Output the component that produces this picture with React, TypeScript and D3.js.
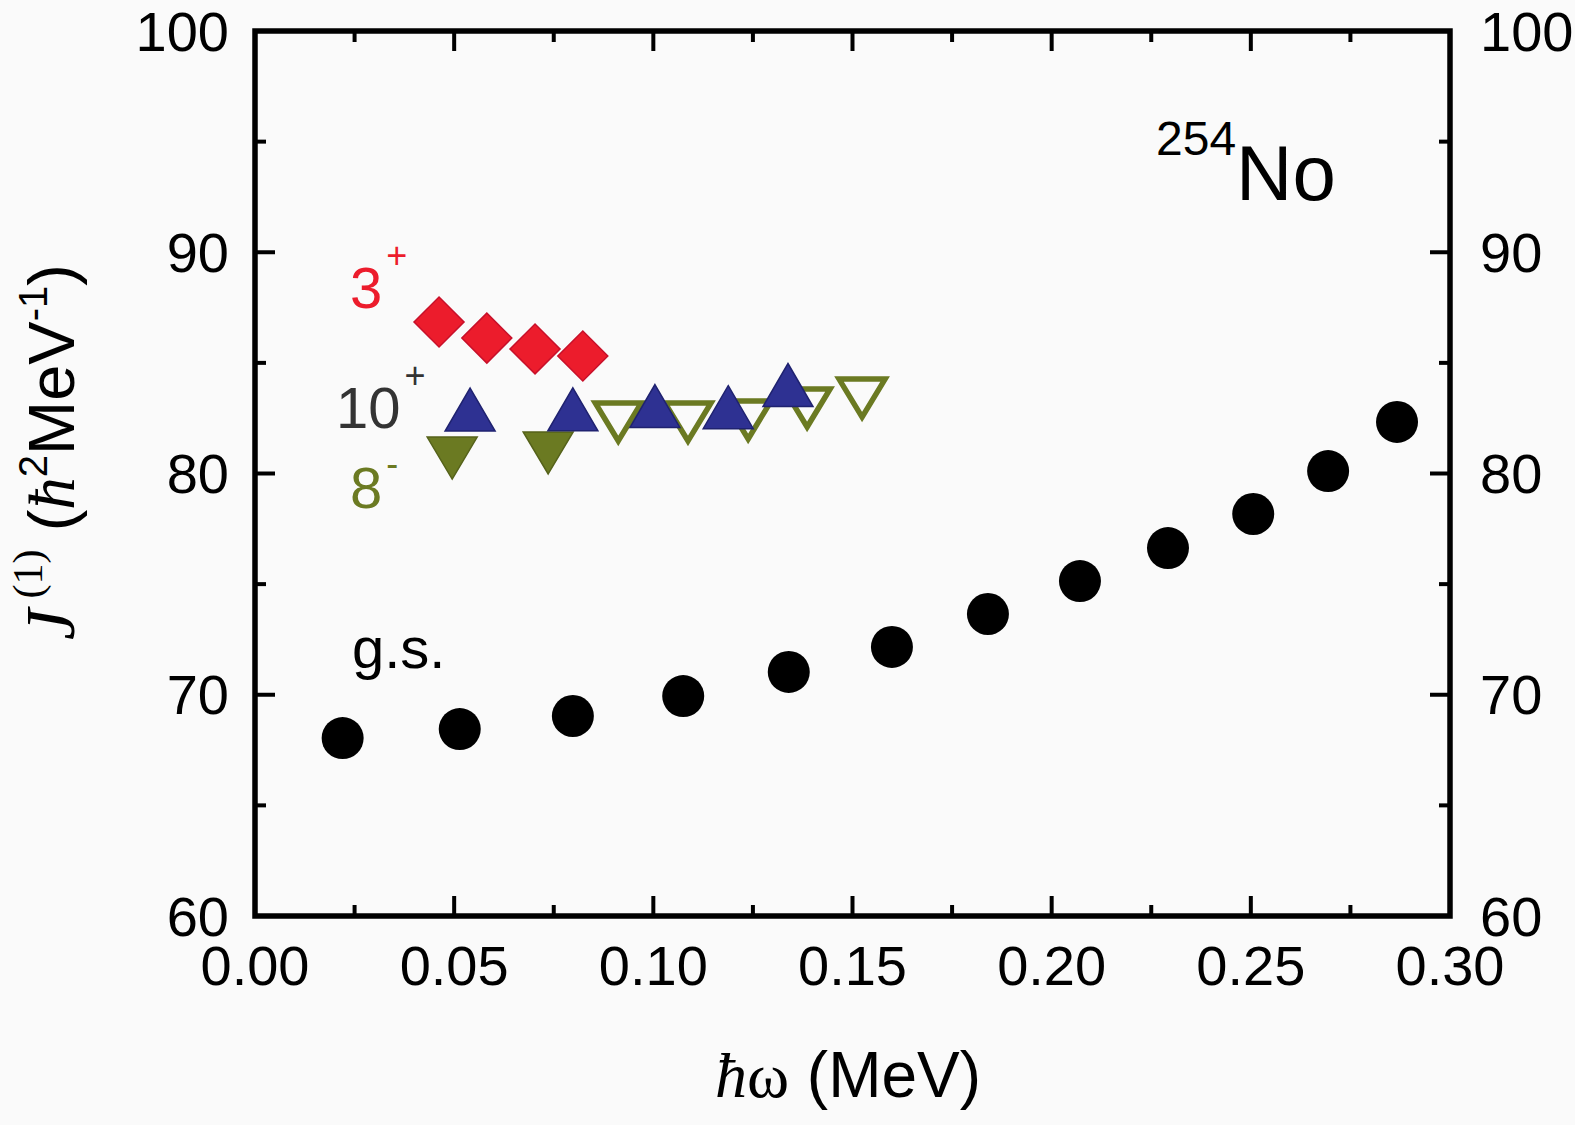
import React, { useEffect, useRef } from "react";
import * as d3 from "d3";

// hbar*omega (MeV) and J(1) (hbar^2 MeV^-1)
const gsOmega = [0.022, 0.0514, 0.0798, 0.1075, 0.134, 0.1599, 0.184, 0.2071, 0.2292, 0.2506, 0.2694, 0.2867];
const gsJ = [68.04, 68.45, 69.04, 69.94, 71.03, 72.16, 73.65, 75.14, 76.63, 78.17, 80.11, 82.33];

const band3Omega = [0.0462, 0.0582, 0.0703, 0.0823];
const band3J = [86.85, 86.12, 85.63, 85.31];

const band10Omega = [0.054, 0.0798, 0.1004, 0.1188, 0.1338];
const band10J = [82.89, 82.9, 83.05, 83.0, 84.0];

const band8Omega = [0.0495, 0.0736];
const band8J = [80.7, 80.93];

const band8OpenOmega = [0.0912, 0.1087, 0.1238, 0.1386, 0.1524];
const band8OpenJ = [82.33, 82.33, 82.42, 82.96, 83.41];

const xMajor = [0, 0.05, 0.1, 0.15, 0.2, 0.25, 0.3];
const yMajor = [60, 70, 80, 90, 100];

const W = 1575;
const H = 1125;
const FONT = "'Liberation Sans', Arial, sans-serif";
const SERIF = "'Liberation Serif', 'DejaVu Serif', serif";

const RED = "#ec1c2c";
const BLUE = "#2e3192";
const OLIVE = "#6b7a22";

const zip = (xs: number[], ys: number[]) => xs.map((x, i) => ({ x, y: ys[i] }));

const triUp = (w: number, h: number) => `M0,${-h / 2}L${w / 2},${h / 2}L${-w / 2},${h / 2}Z`;
const triDown = (w: number, h: number) => `M0,${h / 2}L${w / 2},${-h / 2}L${-w / 2},${-h / 2}Z`;

export default function App() {
  const svgRef = useRef<SVGSVGElement>(null);

  useEffect(() => {
    if (!svgRef.current) return;
    const svg = d3.select(svgRef.current);
    svg.selectAll("*").remove();

    const x = d3.scaleLinear().domain([0, 0.3]).range([255, 1450]);
    const y = d3.scaleLinear().domain([60, 100]).range([916, 31]);
    const [x0, x1] = x.range();
    const [y0, y1] = y.range();

    svg.append("rect").attr("width", W).attr("height", H).attr("fill", "#fafafa");

    // ticks (inward, all four sides)
    const ticks = svg.append("g").attr("stroke", "#000").attr("stroke-width", 4);
    const xMinor = d3.range(0, 0.3001, 0.025);
    const yMinor = d3.range(60, 100.01, 5);
    xMinor.forEach((v, i) => {
      const len = i % 2 === 0 ? 20 : 11;
      ticks.append("line").attr("x1", x(v)).attr("x2", x(v)).attr("y1", y0).attr("y2", y0 - len);
      ticks.append("line").attr("x1", x(v)).attr("x2", x(v)).attr("y1", y1).attr("y2", y1 + len);
    });
    yMinor.forEach((v, i) => {
      const len = i % 2 === 0 ? 20 : 11;
      ticks.append("line").attr("y1", y(v)).attr("y2", y(v)).attr("x1", x0).attr("x2", x0 + len);
      ticks.append("line").attr("y1", y(v)).attr("y2", y(v)).attr("x1", x1).attr("x2", x1 - len);
    });

    // frame
    svg
      .append("rect")
      .attr("x", x0)
      .attr("y", y1)
      .attr("width", x1 - x0)
      .attr("height", y0 - y1)
      .attr("fill", "none")
      .attr("stroke", "#000")
      .attr("stroke-width", 5.5);

    // tick labels
    const fmt = d3.format(".2f");
    svg
      .append("g")
      .selectAll("text")
      .data(xMajor)
      .enter()
      .append("text")
      .attr("x", (d) => x(d))
      .attr("y", 985)
      .attr("text-anchor", "middle")
      .style("font-family", FONT)
      .style("font-size", "56px")
      .text((d) => fmt(d));

    svg
      .append("g")
      .selectAll("text")
      .data(yMajor)
      .enter()
      .append("text")
      .attr("x", 229)
      .attr("y", (d) => y(d))
      .attr("dy", "0.35em")
      .attr("text-anchor", "end")
      .style("font-family", FONT)
      .style("font-size", "56px")
      .text((d) => d);

    svg
      .append("g")
      .selectAll("text")
      .data(yMajor)
      .enter()
      .append("text")
      .attr("x", 1480)
      .attr("y", (d) => y(d))
      .attr("dy", "0.35em")
      .attr("text-anchor", "start")
      .style("font-family", FONT)
      .style("font-size", "56px")
      .text((d) => d);

    // data
    const plot = svg.append("g");

    plot
      .selectAll(".gs")
      .data(zip(gsOmega, gsJ))
      .enter()
      .append("circle")
      .attr("cx", (d) => x(d.x))
      .attr("cy", (d) => y(d.y))
      .attr("r", 21)
      .attr("fill", "#000");

    plot
      .selectAll(".b3")
      .data(zip(band3Omega, band3J))
      .enter()
      .append("path")
      .attr("d", d3.symbol(d3.symbolSquare, 1250)())
      .attr("transform", (d) => `translate(${x(d.x)},${y(d.y)}) rotate(45)`)
      .attr("fill", RED)
      .attr("stroke", "#c8102a")
      .attr("stroke-width", 1.5);

    plot
      .selectAll(".b8")
      .data(zip(band8Omega, band8J))
      .enter()
      .append("path")
      .attr("d", triDown(50, 42))
      .attr("transform", (d) => `translate(${x(d.x)},${y(d.y)})`)
      .attr("fill", OLIVE)
      .attr("stroke", "#55621a")
      .attr("stroke-width", 1.5);

    plot
      .selectAll(".b8o")
      .data(zip(band8OpenOmega, band8OpenJ))
      .enter()
      .append("path")
      .attr("d", triDown(46, 38))
      .attr("transform", (d) => `translate(${x(d.x)},${y(d.y)})`)
      .attr("fill", "none")
      .attr("stroke", OLIVE)
      .attr("stroke-width", 5.5);

    plot
      .selectAll(".b10")
      .data(zip(band10Omega, band10J))
      .enter()
      .append("path")
      .attr("d", triUp(50, 43))
      .attr("transform", (d) => `translate(${x(d.x)},${y(d.y)})`)
      .attr("fill", BLUE)
      .attr("stroke", "#1f2270")
      .attr("stroke-width", 1.5);

    // band labels
    const label = (tx: number, ty: number, main: string, sup: string, color: string, raise: number) => {
      const t = svg
        .append("text")
        .attr("x", tx)
        .attr("y", ty)
        .attr("fill", color)
        .style("font-family", FONT)
        .style("font-size", "58px");
      t.append("tspan").text(main);
      if (sup) t.append("tspan").attr("dx", 4).attr("dy", -raise).style("font-size", "36px").text(sup);
    };
    label(350, 308, "3", "+", RED, 40);
    label(336, 428, "10", "+", "#333333", 40);
    label(350, 508, "8", "-", OLIVE, 32);
    label(352, 668, "g.s.", "", "#000", 0);

    // nucleus
    const nuc = svg.append("text").attr("x", 1156).attr("y", 200).style("font-family", FONT);
    nuc.append("tspan").attr("dy", -45).style("font-size", "48px").text("254");
    nuc.append("tspan").attr("dy", 45).style("font-size", "78px").text("No");

    // x axis title
    const xt = svg
      .append("text")
      .attr("x", 848)
      .attr("y", 1097)
      .attr("text-anchor", "middle")
      .style("font-size", "64px");
    xt.append("tspan").style("font-family", SERIF).style("font-style", "italic").text("\u0127");
    xt.append("tspan").style("font-family", SERIF).text("\u03c9");
    xt.append("tspan").style("font-family", FONT).text(" (MeV)");

    // y axis title
    const yt = svg
      .append("text")
      .attr("transform", "translate(74,452) rotate(-90)")
      .attr("text-anchor", "middle")
      .style("font-size", "65px");
    yt.append("tspan").style("font-family", SERIF).style("font-style", "italic").style("font-size", "70px").text("J");
    yt.append("tspan").attr("dy", -32).style("font-family", SERIF).style("font-size", "42px").text(" (1)");
    yt.append("tspan").attr("dy", 32).style("font-family", FONT).text(" (");
    yt.append("tspan").style("font-family", SERIF).style("font-style", "italic").text("\u0127");
    yt.append("tspan").attr("dy", -27).style("font-family", FONT).style("font-size", "40px").text("2");
    yt.append("tspan").attr("dy", 27).style("font-family", FONT).text("MeV");
    yt.append("tspan").attr("dy", -27).style("font-family", FONT).style("font-size", "40px").text("-1");
    yt.append("tspan").attr("dy", 27).style("font-family", FONT).text(")");
  }, []);

  return (
    <svg
      ref={svgRef}
      width={W}
      height={H}
      style={{ position: "absolute", left: 0, top: 0, display: "block" }}
    />
  );
}
